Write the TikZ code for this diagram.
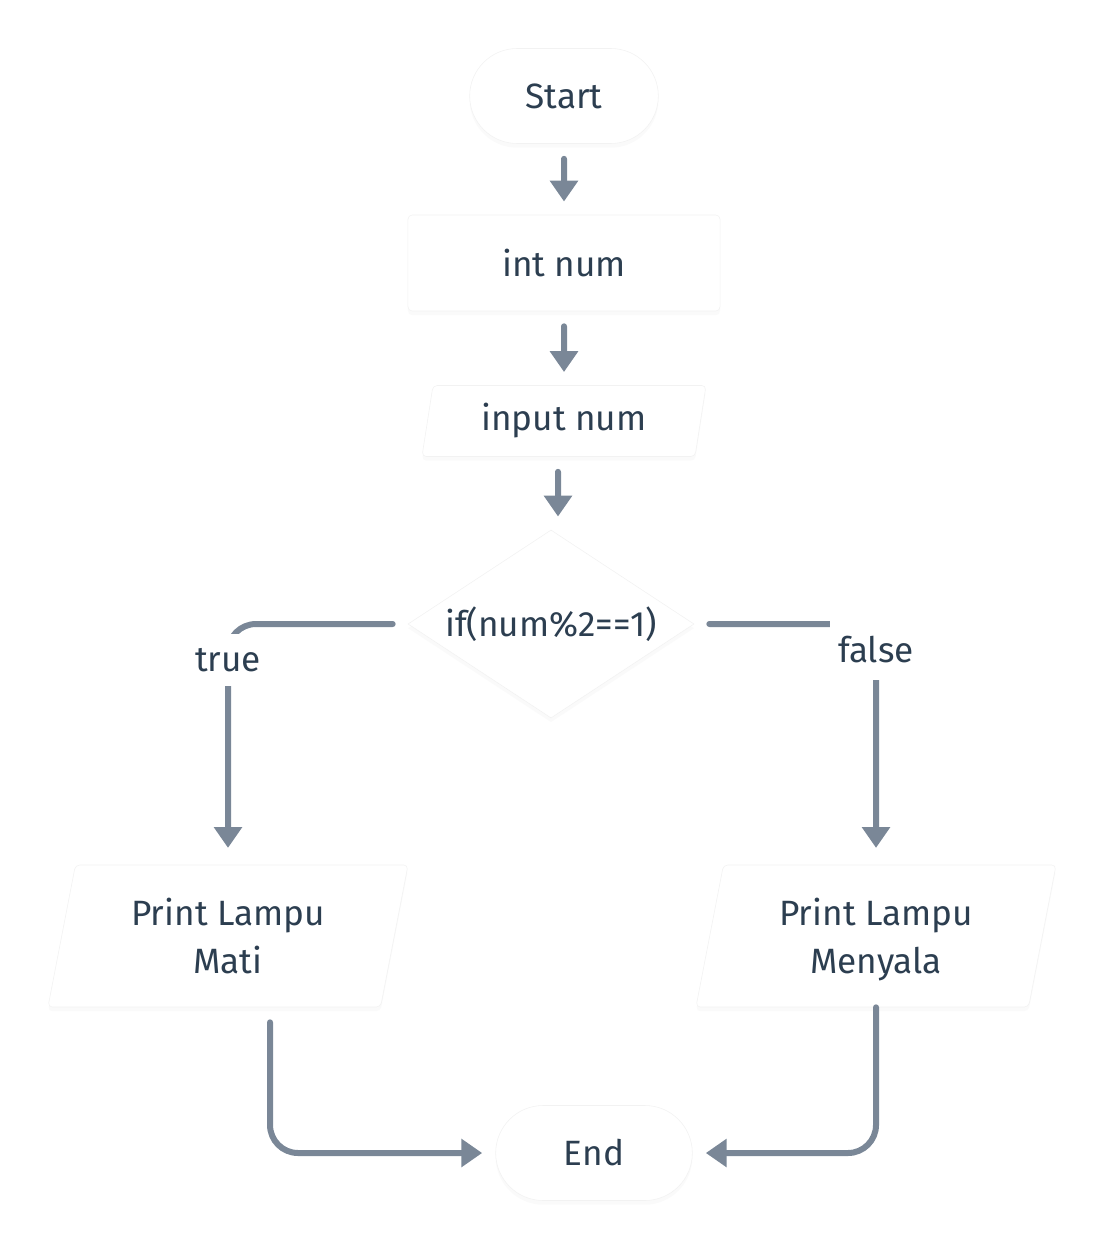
\documentclass[tikz,border=0pt]{standalone}
\usepackage{fontspec}
\setmainfont{Fira Sans}
\usepackage{tikz}
\usetikzlibrary{arrows.meta,shapes.geometric,shapes.misc,shadows,calc}
\definecolor{ink}{HTML}{2C3E50}
\definecolor{flowgray}{HTML}{7A8797}

\begin{document}
\begin{tikzpicture}[x=0.025cm,y=-0.025cm,
  every node/.style={text=ink,font=\fontsize{25}{34}\selectfont},
  box/.style={fill=white,draw=black!5,line width=0.4pt,
    drop shadow={shadow xshift=0pt,shadow yshift=-3pt,opacity=0.04}},
  terminal/.style={box,rounded rectangle,minimum height=2.375cm},
  process/.style={box,rectangle,rounded corners=3pt,minimum width=7.8cm,minimum height=2.4cm},
  io/.style={box,trapezium,trapezium stretches body,rounded corners=3pt},
  decision/.style={box,diamond,aspect=1.52,inner sep=0pt,
    minimum width=7.15cm,minimum height=4.7cm},
  lbl/.style={fill=white,inner xsep=6pt,inner ysep=0pt},
  flow/.style={draw=flowgray,line width=0.15cm,line cap=round,rounded corners=0.7cm,
    -{Triangle[length=0.52cm,width=0.68cm]},shorten <=0.375cm,shorten >=0.33cm}]
\useasboundingbox (0,0) rectangle (1104,1248);

\node[terminal,minimum width=4.95cm] (start) at (564,96) {Start};
\node[process] (decl) at (564,263) {int num};
\node[io,trapezium left angle=76,trapezium right angle=104,
  minimum width=7.1cm,minimum height=1.775cm] (input) at (564,421) {input num};
\node[decision] (dec) at (551,624) {if(num\%2==1)};
\node[io,trapezium left angle=72,trapezium right angle=108,align=center,text depth=0pt,
  minimum width=9cm,minimum height=3.55cm] (mati) at (228,936) {Print Lampu\\Mati};
\node[io,trapezium left angle=72,trapezium right angle=108,align=center,text depth=0pt,
  minimum width=9cm,minimum height=3.55cm] (nyala) at (876,936) {Print Lampu\\Menyala};
\node[terminal,minimum width=5.15cm] (end) at (594,1153) {End};

\draw[flow] (start) -- (decl);
\draw[flow] (decl) -- (input);
\draw[flow] ([xshift=-0.15cm]input.south) -- ([xshift=0.175cm]dec.north);
\draw[flow,shorten >=0.42cm] (dec.west) -| (mati.north);
\draw[flow,shorten >=0.42cm] (dec.east) -| (nyala.north);
\draw[flow] ($(mati.south)+(42,0)$) |- (end.west);
\draw[flow,shorten <=0pt] (nyala.south) |- (end.east);

\node[lbl,minimum height=1.3cm] (yes) at (228,660) {true};
\node[lbl,minimum height=1.5cm] (no) at (876,650) {false};
\end{tikzpicture}
\end{document}
